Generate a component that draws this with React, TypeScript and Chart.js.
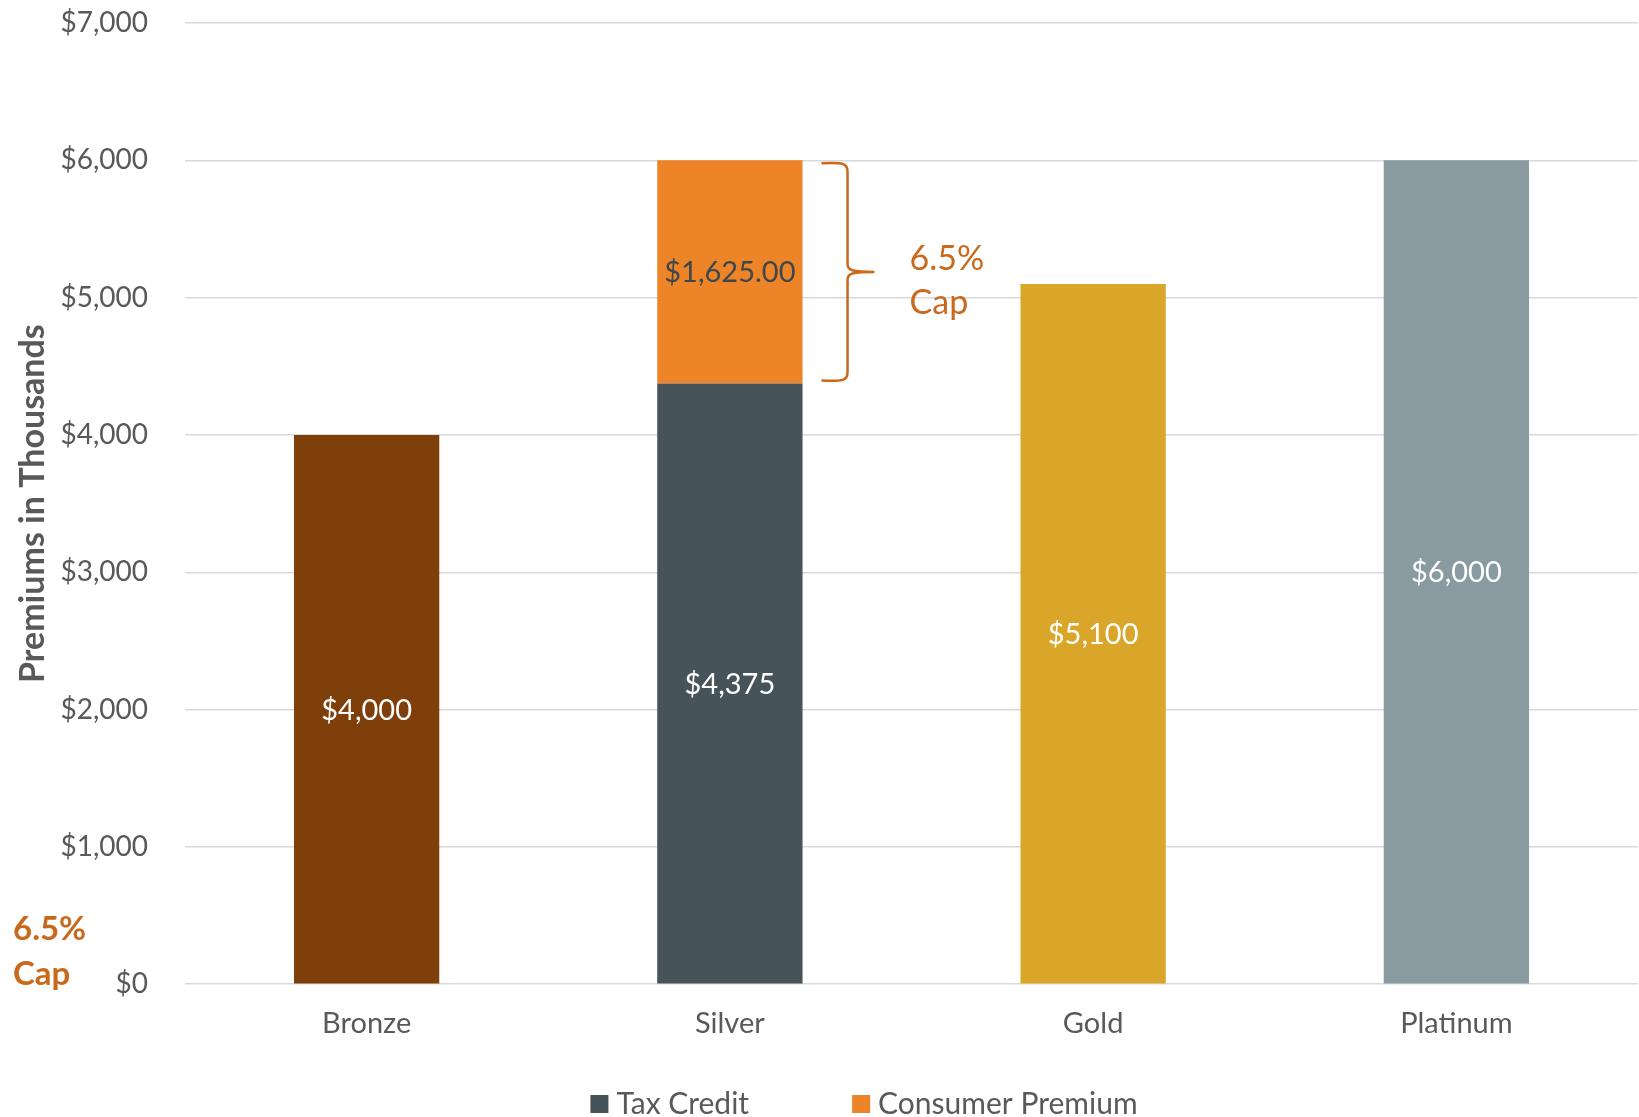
import React, { useEffect, useRef } from "react";
import { Chart, registerables } from "chart.js";

Chart.register(...registerables);

const categories = ["Bronze", "Silver", "Gold", "Platinum"];
const planPremium = [4000, null, 5100, 6000];
const taxCredit = [null, 4375, null, null];
const consumerPremium = [null, 1625, null, null];
const planColors = ["#7F3F0B", "#465359", "#D9A629", "#8A9AA1"];
const taxCreditColor = "#465359";
const consumerPremiumColor = "#ED8428";
const yMin = 0;
const yMax = 7000;
const yStep = 1000;
const capText = ["6.5%", "Cap"];

const FONT = "Lato, 'Open Sans', sans-serif";
const TEXT = "#595959";
const CAP_COLOR = "#C8691C";

const fmtDollar = (v: number) => "$" + v.toLocaleString("en-US");
const fmtDollar2 = (v: number) =>
  "$" + v.toLocaleString("en-US", { minimumFractionDigits: 2, maximumFractionDigits: 2 });

const valueLabels = {
  id: "valueLabels",
  afterDatasetsDraw(chart: any) {
    const ctx = chart.ctx;
    ctx.save();
    ctx.textAlign = "center";
    ctx.textBaseline = "middle";
    ctx.font = `29px ${FONT}`;
    chart.data.datasets.forEach((ds: any, di: number) => {
      const meta = chart.getDatasetMeta(di);
      meta.data.forEach((el: any, i: number) => {
        const v = ds.data[i];
        if (v == null) return;
        const { x, y, base } = el.getProps(["x", "y", "base"], true);
        const isConsumer = ds.label === "Consumer Premium";
        ctx.fillStyle = isConsumer ? "#3F474B" : "#FFFFFF";
        ctx.fillText(isConsumer ? fmtDollar2(v) : fmtDollar(v), x, (y + base) / 2 + 1);
      });
    });
    ctx.restore();
  },
};

const braceAndNotes = {
  id: "braceAndNotes",
  afterDraw(chart: any) {
    const ctx = chart.ctx;
    const di = chart.data.datasets.findIndex((d: any) => d.label === "Consumer Premium");
    const meta = chart.getDatasetMeta(di);
    const idx = chart.data.datasets[di].data.findIndex((v: any) => v != null);
    const el = meta.data[idx];
    const { x, y, base, width } = el.getProps(["x", "y", "base", "width"], true);
    const x0 = x + width / 2 + 19;
    const x1 = x0 + 26;
    const tip = x0 + 53;
    const top = y + 3;
    const bot = base - 3;
    const mid = (top + bot) / 2;
    ctx.save();
    ctx.strokeStyle = CAP_COLOR;
    ctx.lineWidth = 2.5;
    ctx.beginPath();
    ctx.moveTo(x0, top);
    ctx.bezierCurveTo(x1 - 4, top - 1, x1, top, x1, top + 8);
    ctx.lineTo(x1, mid - 8);
    ctx.bezierCurveTo(x1, mid - 1, x1 + 6, mid, tip, mid);
    ctx.moveTo(tip, mid);
    ctx.bezierCurveTo(x1 + 6, mid, x1, mid + 1, x1, mid + 8);
    ctx.lineTo(x1, bot - 8);
    ctx.bezierCurveTo(x1, bot, x1 - 4, bot + 1, x0, bot);
    ctx.stroke();

    ctx.fillStyle = CAP_COLOR;
    ctx.textAlign = "left";
    ctx.textBaseline = "middle";
    ctx.font = `34px ${FONT}`;
    ctx.fillText(capText[0], x0 + 88, mid - 13);
    ctx.fillText(capText[1], x0 + 88, mid + 31);

    ctx.font = `bold 33px ${FONT}`;
    ctx.fillText(capText[0], 13, 929);
    ctx.fillText(capText[1], 13, 974);

    // legend
    const items = chart.data.datasets
      .filter((d: any) => d.label !== "Plan")
      .map((d: any) => ({ text: d.label, color: d.backgroundColor }));
    ctx.font = `30px ${FONT}`;
    const box = 18;
    const gapText = 8;
    const gapItem = 103;
    const widths = items.map((it: any) => box + gapText + ctx.measureText(it.text).width);
    const total = widths.reduce((a: number, b: number) => a + b, 0) + gapItem * (items.length - 1);
    let lx = 864 - total / 2;
    const ly = 1104;
    items.forEach((it: any, i: number) => {
      ctx.fillStyle = it.color;
      ctx.fillRect(lx, ly - box / 2, box, box);
      ctx.fillStyle = TEXT;
      ctx.fillText(it.text, lx + box + gapText, ly);
      lx += widths[i] + gapItem;
    });
    ctx.restore();
  },
};

export default function App() {
  const ref = useRef<HTMLCanvasElement | null>(null);
  useEffect(() => {
    document.body.style.margin = "0";
    const chart = new Chart(ref.current as HTMLCanvasElement, {
      type: "bar",
      data: {
        labels: categories,
        datasets: [
          { label: "Plan", data: planPremium, backgroundColor: planColors, stack: "s" },
          { label: "Tax Credit", data: taxCredit, backgroundColor: taxCreditColor, stack: "s" },
          { label: "Consumer Premium", data: consumerPremium, backgroundColor: consumerPremiumColor, stack: "s" },
        ],
      } as any,
      options: {
        animation: false,
        responsive: false,
        maintainAspectRatio: false,
        datasets: { bar: { barPercentage: 0.4, categoryPercentage: 1, skipNull: false } },
        layout: { padding: { top: 23, left: 13, right: 1, bottom: 54 } },
        plugins: { legend: { display: false }, tooltip: { enabled: false } },
        scales: {
          x: {
            stacked: true,
            grid: { display: false, drawTicks: false },
            border: { display: false },
            ticks: { color: TEXT, font: { family: FONT, size: 29 }, padding: 22 },
          },
          y: {
            stacked: true,
            min: yMin,
            max: yMax,
            afterFit(scale: any) {
              scale.width = 172;
            },
            grid: {
              color: "#D9D9D9",
              lineWidth: 1.5,
              drawTicks: true,
              tickLength: 37,
              tickColor: "rgba(0,0,0,0)",
            },
            border: { display: false },
            ticks: {
              stepSize: yStep,
              color: TEXT,
              font: { family: FONT, size: 28 },
              padding: 0,
              callback: (v: any) => fmtDollar(Number(v)),
            },
            title: {
              display: true,
              text: "Premiums in Thousands",
              color: TEXT,
              font: { family: FONT, size: 34, weight: "bold" },
              padding: { top: 0, bottom: 0 },
            },
          },
        },
      } as any,
      plugins: [valueLabels, braceAndNotes],
    });
    return () => chart.destroy();
  }, []);
  return (
    <div style={{ width: 1639, height: 1117 }}>
      <canvas ref={ref} width={1639} height={1117} style={{ display: "block" }} />
    </div>
  );
}
